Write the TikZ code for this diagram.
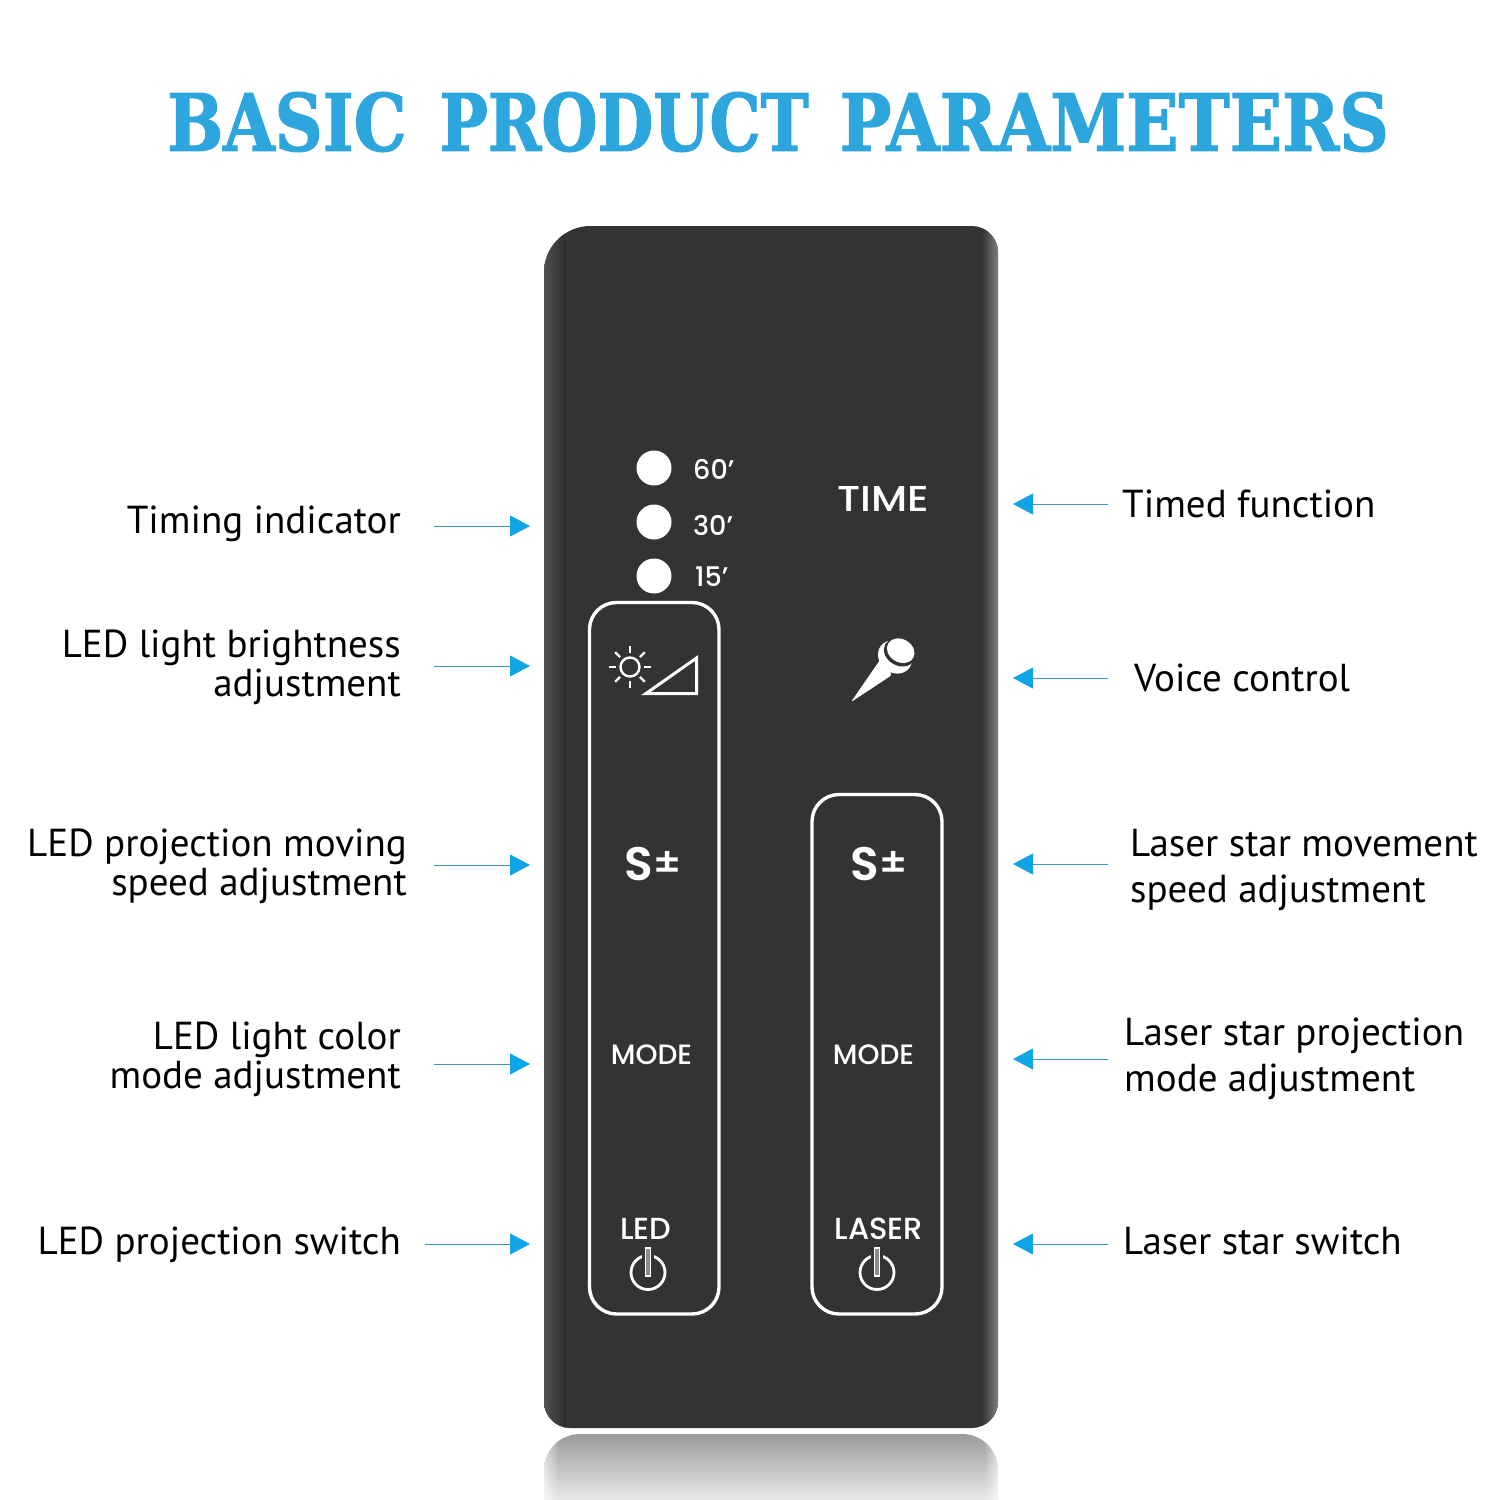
\documentclass[tikz,border=0pt]{standalone}
\usepackage{fontspec}
\usepackage{graphicx}
\setmainfont{PT Sans}
\newfontfamily\titlefont{DejaVu Serif}[BoldFeatures={FakeBold=1.6}]
\newfontfamily\panelfont{Poppins Medium}
\newfontfamily\panelbold{Poppins SemiBold}
\usetikzlibrary{arrows.meta,shapes.geometric,fadings}
\definecolor{bodygrey}{HTML}{333333}
\definecolor{callblue}{HTML}{12A5E6}
\definecolor{titleblue}{HTML}{2CA6DC}
\tikzset{
 x=1pt,y=-1pt,
 lablft/.style={anchor=east,align=right,inner sep=0pt,font=\fontsize{39}{39}\selectfont,text=black},
 labrgt/.style={anchor=west,align=left,inner sep=0pt,font=\fontsize{39}{46}\selectfont,text=black},
 callout/.style={draw=callblue!60!gray,line width=0.9pt,-{Triangle[length=20pt,width=21pt,fill=callblue,color=callblue]}},
 paneltext/.style={inner sep=0pt,text=white,font=\fontsize{28}{28}\panelfont\selectfont},
 switchtext/.style={inner sep=0pt,text=white,font=\fontsize{30.5}{30.5}\panelfont\selectfont},
 timetext/.style={inner sep=0pt,text=white,font=\fontsize{27}{27}\panelfont\selectfont},
 led/.style={circle,fill=white,minimum size=35pt,inner sep=0pt},
 keypanel/.style={draw=white,line width=3.4pt,rounded corners=27pt},
 whiteline/.style={draw=white,line width=3pt},
}
\begin{document}
\begin{tikzpicture}
\useasboundingbox (0,0) rectangle (1500,1500);
\fill[white] (0,0) rectangle (1500,1500);
% title
\node (title) [inner sep=0pt,text=titleblue,anchor=west] at (167,122)
 {\fontsize{79}{79}\titlefont\bfseries\scalebox{.84}[1]{BASIC}\hspace{33pt}\scalebox{.815}[1]{PRODUCT}\hspace{31pt}\scalebox{.87}[1]{PARAMETERS}};
% reflection
\begin{scope}
\clip (544,1500) -- (544,1470) .. controls (544,1450) and (560,1434) .. (580,1434) -- (962,1434) .. controls (982,1434) and (998,1450) .. (998,1470) -- (998,1500) -- cycle;
\shade[top color=black!39,bottom color=black!9] (544,1434) rectangle (998,1500);
\fill[white,opacity=0.6,path fading=east] (544,1434) rectangle (558,1500);
\fill[white,opacity=0.6,path fading=west] (984,1434) rectangle (998,1500);
\end{scope}
% body
\begin{scope}
\clip (544,1402) -- (544,272) .. controls (544,247) and (565,226) .. (590,226) -- (972,226) .. controls (986,226) and (998,238) .. (998,252) -- (998,1402) .. controls (998,1416) and (986,1428) .. (972,1428) -- (570,1428) .. controls (556,1428) and (544,1416) .. (544,1402) -- cycle;
\fill[bodygrey] (540,220) rectangle (1000,1430);
\shade[left color=black!68,right color=black!82] (544,220) rectangle (565,1430);
\shade[left color=bodygrey,right color=black!50] (982,220) rectangle (998,1430);
\draw[black!85,line width=1.2pt] (565.5,240) -- (565.5,1430);
\end{scope}
% leds
\node (l60) [led] at (654,468) {};
\node (l30) [led] at (654,522) {};
\node (l15) [led] at (654,576) {};
\node (t60) [timetext,anchor=west] at (693,469) {60’};
\node (t30) [timetext,anchor=west] at (693,525) {30’};
\node (t15) [timetext,anchor=west] at (695,577) {15’};
\node (time) [inner sep=0pt,text=white,font=\fontsize{36}{36}\panelfont\selectfont] at (883.5,499) {\scalebox{1.14}[1]{TIME}};
% panels
\draw[keypanel] (589.5,602.5) rectangle (719,1314);
\draw[keypanel] (812,794.5) rectangle (942,1314);
% sun
\draw[draw=white,line width=2.4pt] (630,667) circle[radius=9.5];
\foreach \a in {0,45,...,315}{\draw[white,line width=2.4pt] (630,667) ++(\a:14) -- ++(\a:7);}
\draw[whiteline,line join=miter] (646,693.5) -- (696.5,658) -- (696.5,693.5) -- cycle;
% mic
\fill[white,rounded corners=2pt] (851,702) -- (882,657) -- (892,675) -- cycle;
\fill[white,rotate around={-40:(895,657)}] (895,657) ellipse[x radius=18,y radius=15.5];
\fill[bodygrey,rotate around={-30:(899.5,652.5)}] (899.5,652.5) ellipse[x radius=16.5,y radius=13];
\fill[white,rotate around={-30:(900.7,650.7)}] (900.7,650.7) ellipse[x radius=14.5,y radius=11.5];
% keys
\node (s1) [inner sep=0pt,text=white,font=\fontsize{47}{47}\panelbold\selectfont] at (638.5,864) {S};
\node (s1p) [inner sep=0pt,text=white,font=\fontsize{42}{42}\panelfont\selectfont] at (667.5,864) {±};
\node (s2) [inner sep=0pt,text=white,font=\fontsize{47}{47}\panelbold\selectfont] at (864.5,864) {S};
\node (s2p) [inner sep=0pt,text=white,font=\fontsize{42}{42}\panelfont\selectfont] at (893.5,864) {±};
\node (m1) [paneltext] at (651.5,1055) {MODE};
\node (m2) [paneltext] at (873.5,1055) {MODE};
\node (led) [switchtext] at (646,1229) {LED};
\node (las) [switchtext] at (879,1229) {LASER};
% power
\foreach \c in {648,877}{
 \draw[white,line width=2.8pt] (\c,1272.5) circle[radius=17];
 \fill[bodygrey] (\c-6,1248) rectangle (\c+6,1262);
 \draw[white,line width=1.4pt,fill=black!45] (\c-2.4,1248) rectangle (\c+2.4,1276);
}
% left labels
\node (a) [lablft] at (401,524) {Timing indicator};
\node (b) [lablft] at (401,667) {LED light brightness\\adjustment};
\node (c) [lablft] at (407,866) {LED projection moving\\speed adjustment};
\node (d) [lablft] at (401,1059) {LED light color\\mode adjustment};
\node (e) [lablft] at (401,1245) {LED projection switch};
% right labels
\node (f) [labrgt] at (1122,504) {Timed function};
\node (g) [labrgt] at (1134,678) {Voice control};
\node (h) [labrgt] at (1130,869.5) {Laser star movement\\speed adjustment};
\node (i) [labrgt] at (1124,1059) {Laser star projection\\mode adjustment};
\node (j) [labrgt] at (1123,1241) {Laser star switch};
% connectors
\foreach \n/\sx/\y in {a/434/526,b/434/666,c/434/865,d/434/1064,e/425/1244}{
 \coordinate (\n0) at (\sx,\y); \coordinate (\n1) at (530,\y);
 \draw[callout] (\n0) -- (\n1);
}
\foreach \n/\y in {f/504,g/678,h/864,i/1059,j/1244}{
 \coordinate (\n0) at (1108,\y); \coordinate (\n1) at (1013,\y);
 \draw[callout] (\n0) -- (\n1);
}
\end{tikzpicture}
\end{document}
